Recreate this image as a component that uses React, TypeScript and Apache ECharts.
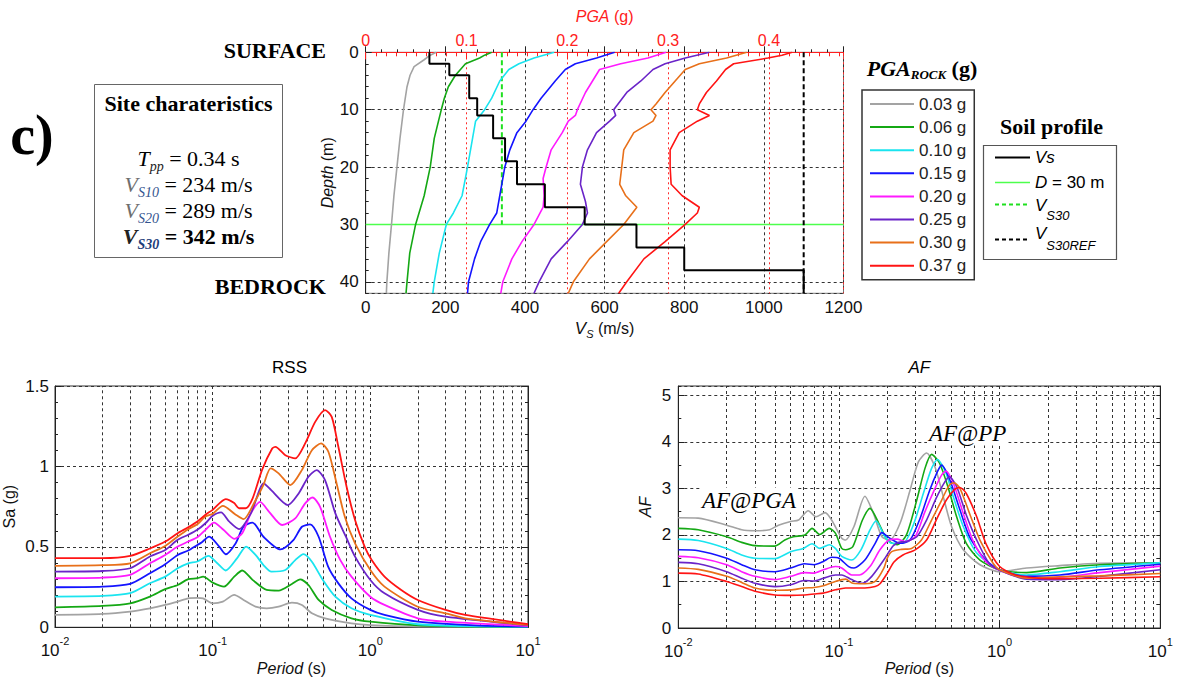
import React, { useEffect, useRef } from "react";
import * as echarts from "echarts";

const SANS = '"Liberation Sans", Arial, sans-serif';
const SERIF = '"Liberation Serif", "Times New Roman", serif';

// ---------- legend / series names and colours ----------
const pgaRockNames = ["0.03 g", "0.06 g", "0.10 g", "0.15 g", "0.20 g", "0.25 g", "0.30 g", "0.37 g"];
const pgaRockColors = ["#a3a3a3", "#14a814", "#1ae4ef", "#1414ff", "#ff1aff", "#6a24c8", "#e8701a", "#ff1414"];

// ---------- top plot: PGA depth profiles [PGA (g), depth (m)] ----------
const pgaProfile003 = [[0.070, 0], [0.064, 0.5], [0.058, 1.3], [0.048, 2.5], [0.044, 4], [0.041, 6], [0.0375, 10], [0.034, 15], [0.031, 20], [0.028, 25], [0.0256, 30], [0.023, 35], [0.021, 40], [0.0205, 42]];
const pgaProfile006 = [[0.125, 0], [0.118, 0.5], [0.113, 1], [0.099, 2], [0.089, 4], [0.082, 6], [0.078, 8], [0.075, 10], [0.068, 15], [0.064, 20], [0.058, 25], [0.0495, 30], [0.0437, 35], [0.041, 40], [0.040, 42]];
const pgaProfile010 = [[0.187, 0], [0.167, 1], [0.152, 2], [0.142, 3], [0.133, 5], [0.125, 8], [0.118, 10], [0.109, 12], [0.106, 15], [0.101, 20], [0.0956, 25], [0.087, 28], [0.080, 30], [0.073, 35], [0.068, 40], [0.0666, 42]];
const pgaProfile015 = [[0.247, 0], [0.229, 1], [0.208, 2], [0.198, 3], [0.188, 5], [0.174, 8], [0.166, 10], [0.159, 12], [0.150, 14], [0.143, 17], [0.138, 20], [0.133, 25], [0.130, 28], [0.123, 30], [0.114, 33], [0.108, 36], [0.102, 40], [0.101, 42]];
const pgaProfile020 = [[0.298, 0], [0.280, 1], [0.253, 2], [0.232, 3], [0.225, 5], [0.218, 7], [0.210, 10], [0.208, 11], [0.201, 12], [0.195, 14], [0.184, 17], [0.179, 20], [0.176, 22], [0.177, 25], [0.176, 27], [0.167, 30], [0.155, 33], [0.145, 36], [0.136, 40], [0.134, 42]];
const pgaProfile025 = [[0.341, 0], [0.317, 1], [0.297, 2], [0.285, 3], [0.273, 5], [0.259, 7], [0.246, 10], [0.248, 11], [0.242, 12], [0.229, 14], [0.220, 17], [0.215, 20], [0.213, 23], [0.218, 26], [0.220, 28], [0.215, 30], [0.200, 33], [0.184, 36], [0.172, 40], [0.167, 42]];
const pgaProfile030 = [[0.378, 0], [0.358, 1], [0.331, 2], [0.317, 3], [0.307, 5], [0.297, 7], [0.288, 9], [0.283, 10], [0.288, 11], [0.285, 12], [0.266, 14], [0.256, 17], [0.254, 20], [0.252, 23], [0.258, 25], [0.269, 27], [0.256, 30], [0.239, 33], [0.222, 36], [0.206, 40], [0.201, 42]];
const pgaProfile037 = [[0.423, 0], [0.413, 0.5], [0.399, 1], [0.365, 2], [0.357, 3], [0.348, 5], [0.338, 7], [0.331, 9], [0.329, 10], [0.341, 11], [0.329, 12], [0.311, 14], [0.302, 17], [0.302, 20], [0.303, 23], [0.314, 25], [0.331, 27], [0.329, 28], [0.317, 30], [0.297, 33], [0.276, 36], [0.259, 40], [0.251, 42]];
const pgaProfiles = [pgaProfile003, pgaProfile006, pgaProfile010, pgaProfile015, pgaProfile020, pgaProfile025, pgaProfile030, pgaProfile037];

// ---------- soil profile ----------
const layerVs = [160, 210, 260, 280, 320, 350, 380, 450, 550, 680, 800, 1100];
const layerTop = [0, 2, 4, 8, 11, 15, 19, 23, 27, 30, 34, 38];
const layerBottom = [2, 4, 8, 11, 15, 19, 23, 27, 30, 34, 38, 42];
const vs30 = 342;
const vs30Ref = 1100;
const refDepth = 30;
const depthMax = 42;
const vsAxisMax = 1200;
const pgaAxisMax = 0.474;

// ---------- RSS: spectral acceleration [period (s), Sa (g)] ----------
const rss003 = [[0.01, 0.077], [0.02, 0.083], [0.03, 0.098], [0.04, 0.118], [0.05, 0.139], [0.06, 0.16], [0.07, 0.18], [0.08, 0.183], [0.087, 0.18], [0.1, 0.149], [0.116, 0.16], [0.137, 0.201], [0.157, 0.17], [0.187, 0.129], [0.22, 0.118], [0.262, 0.128], [0.318, 0.153], [0.368, 0.139], [0.426, 0.087], [0.516, 0.056], [0.759, 0.025], [1.0, 0.014], [2, 0.005], [10, 0.001]];
const rss006 = [[0.01, 0.124], [0.02, 0.133], [0.03, 0.149], [0.04, 0.191], [0.05, 0.237], [0.06, 0.263], [0.07, 0.299], [0.08, 0.305], [0.087, 0.315], [0.1, 0.278], [0.118, 0.253], [0.137, 0.315], [0.154, 0.353], [0.179, 0.295], [0.22, 0.232], [0.262, 0.228], [0.318, 0.269], [0.359, 0.298], [0.405, 0.263], [0.47, 0.17], [0.569, 0.108], [0.759, 0.056], [1.0, 0.035], [2, 0.012], [5, 0.004], [10, 0.002]];
const rss010 = [[0.01, 0.191], [0.02, 0.195], [0.03, 0.212], [0.04, 0.274], [0.05, 0.315], [0.06, 0.367], [0.07, 0.398], [0.08, 0.409], [0.094, 0.444], [0.107, 0.398], [0.121, 0.353], [0.143, 0.43], [0.163, 0.502], [0.187, 0.45], [0.21, 0.387], [0.236, 0.346], [0.289, 0.356], [0.334, 0.418], [0.377, 0.455], [0.426, 0.408], [0.5, 0.294], [0.6, 0.19], [0.759, 0.118], [1.0, 0.077], [2, 0.019], [5, 0.006], [10, 0.003]];
const rss015 = [[0.01, 0.249], [0.02, 0.253], [0.03, 0.27], [0.04, 0.336], [0.05, 0.392], [0.06, 0.45], [0.07, 0.477], [0.08, 0.512], [0.085, 0.527], [0.095, 0.564], [0.11, 0.502], [0.121, 0.454], [0.14, 0.523], [0.157, 0.627], [0.179, 0.651], [0.21, 0.563], [0.269, 0.484], [0.325, 0.542], [0.368, 0.625], [0.415, 0.64], [0.47, 0.563], [0.54, 0.377], [0.627, 0.273], [0.759, 0.18], [1.0, 0.108], [1.23, 0.077], [2, 0.035], [5, 0.01], [10, 0.005]];
const rss020 = [[0.01, 0.305], [0.02, 0.309], [0.03, 0.326], [0.04, 0.398], [0.05, 0.45], [0.06, 0.502], [0.07, 0.533], [0.08, 0.56], [0.09, 0.606], [0.102, 0.651], [0.117, 0.606], [0.137, 0.55], [0.154, 0.585], [0.175, 0.71], [0.2, 0.78], [0.228, 0.718], [0.276, 0.636], [0.334, 0.677], [0.386, 0.77], [0.43, 0.807], [0.48, 0.749], [0.555, 0.563], [0.645, 0.418], [0.759, 0.315], [1.0, 0.19], [1.23, 0.139], [2, 0.056], [3, 0.035], [10, 0.008]];
const rss025 = [[0.01, 0.346], [0.02, 0.35], [0.03, 0.367], [0.04, 0.44], [0.05, 0.481], [0.06, 0.544], [0.07, 0.575], [0.08, 0.606], [0.09, 0.647], [0.1, 0.693], [0.113, 0.714], [0.127, 0.658], [0.147, 0.61], [0.175, 0.71], [0.211, 0.894], [0.235, 0.853], [0.3, 0.76], [0.351, 0.832], [0.405, 0.936], [0.457, 0.977], [0.516, 0.915], [0.6, 0.708], [0.7, 0.563], [0.8, 0.439], [1.0, 0.294], [1.23, 0.211], [2, 0.108], [3, 0.066], [10, 0.012]];
const rss030 = [[0.01, 0.382], [0.02, 0.386], [0.03, 0.398], [0.04, 0.46], [0.05, 0.506], [0.06, 0.564], [0.07, 0.61], [0.08, 0.641], [0.09, 0.689], [0.1, 0.705], [0.116, 0.755], [0.14, 0.70], [0.157, 0.672], [0.187, 0.79], [0.21, 0.886], [0.233, 0.988], [0.262, 0.957], [0.311, 0.884], [0.368, 0.977], [0.426, 1.101], [0.487, 1.143], [0.542, 1.091], [0.611, 0.894], [0.689, 0.687], [0.8, 0.522], [1.0, 0.356], [1.23, 0.253], [2, 0.128], [3, 0.087], [4, 0.056], [10, 0.015]];
const rss037 = [[0.01, 0.43], [0.02, 0.43], [0.03, 0.444], [0.04, 0.49], [0.05, 0.533], [0.06, 0.585], [0.07, 0.622], [0.08, 0.658], [0.09, 0.70], [0.1, 0.73], [0.121, 0.797], [0.137, 0.772], [0.147, 0.74], [0.162, 0.74], [0.179, 0.80], [0.206, 0.98], [0.238, 1.11], [0.25, 1.122], [0.289, 1.07], [0.334, 1.05], [0.386, 1.143], [0.447, 1.277], [0.516, 1.35], [0.569, 1.308], [0.627, 1.122], [0.707, 0.874], [0.8, 0.667], [0.92, 0.501], [1.02, 0.418], [1.23, 0.315], [1.57, 0.232], [2, 0.17], [3, 0.108], [4, 0.077], [10, 0.02]];
const rssCurves = [rss003, rss006, rss010, rss015, rss020, rss025, rss030, rss037];

// ---------- AF: amplification factor [period (s), AF] ----------
const af003 = [[0.01, 2.37], [0.0133, 2.36], [0.02, 2.21], [0.0248, 2.11], [0.03, 2.09], [0.037, 2.11], [0.042, 2.21], [0.05, 2.29], [0.056, 2.32], [0.0644, 2.52], [0.072, 2.39], [0.082, 2.48], [0.09, 2.32], [0.104, 1.93], [0.11, 1.89], [0.124, 2.18], [0.145, 2.83], [0.164, 2.46], [0.185, 1.96], [0.207, 1.89], [0.24, 2.25], [0.277, 2.96], [0.312, 3.57], [0.351, 3.76], [0.396, 3.46], [0.446, 2.82], [0.502, 2.18], [0.594, 1.68], [0.754, 1.36], [1.0, 1.21], [1.47, 1.29], [2.37, 1.34], [4.2, 1.39], [10, 1.40]];
const af006 = [[0.01, 2.14], [0.0133, 2.11], [0.02, 1.96], [0.0248, 1.84], [0.03, 1.77], [0.04, 1.76], [0.046, 1.89], [0.052, 1.96], [0.0614, 2.0], [0.068, 2.14], [0.076, 2.01], [0.087, 2.14], [0.095, 2.04], [0.104, 1.71], [0.11, 1.68], [0.122, 1.75], [0.14, 2.32], [0.156, 2.57], [0.177, 2.25], [0.2, 1.89], [0.23, 1.79], [0.263, 2.0], [0.305, 2.75], [0.343, 3.43], [0.377, 3.73], [0.423, 3.54], [0.48, 3.0], [0.54, 2.39], [0.62, 1.82], [0.754, 1.46], [1.0, 1.25], [1.47, 1.19], [2.37, 1.29], [4.2, 1.36], [10, 1.40]];
const af010 = [[0.01, 1.91], [0.0133, 1.88], [0.02, 1.71], [0.0248, 1.57], [0.03, 1.5], [0.04, 1.49], [0.05, 1.64], [0.06, 1.71], [0.068, 1.81], [0.076, 1.71], [0.087, 1.79], [0.095, 1.71], [0.104, 1.54], [0.12, 1.46], [0.137, 1.68], [0.156, 2.11], [0.17, 2.30], [0.193, 1.96], [0.213, 1.82], [0.25, 1.82], [0.29, 2.21], [0.335, 2.89], [0.377, 3.43], [0.41, 3.62], [0.46, 3.36], [0.515, 2.82], [0.594, 2.18], [0.72, 1.61], [1.0, 1.25], [1.47, 1.14], [2.37, 1.21], [4.2, 1.32], [10, 1.40]];
const af015 = [[0.01, 1.68], [0.0133, 1.66], [0.02, 1.5], [0.0248, 1.36], [0.03, 1.25], [0.04, 1.21], [0.05, 1.29], [0.061, 1.38], [0.07, 1.36], [0.08, 1.43], [0.09, 1.52], [0.1, 1.5], [0.115, 1.32], [0.124, 1.29], [0.145, 1.46], [0.168, 1.82], [0.185, 2.05], [0.207, 1.93], [0.24, 1.82], [0.277, 1.89], [0.32, 2.36], [0.367, 2.96], [0.41, 3.36], [0.436, 3.5], [0.49, 3.18], [0.566, 2.54], [0.65, 1.96], [0.82, 1.46], [1.0, 1.25], [1.47, 1.11], [2.37, 1.14], [4.2, 1.25], [10, 1.37]];
const af020 = [[0.01, 1.54], [0.0133, 1.51], [0.02, 1.36], [0.0248, 1.21], [0.03, 1.11], [0.04, 1.04], [0.05, 1.11], [0.061, 1.19], [0.07, 1.18], [0.08, 1.25], [0.095, 1.32], [0.104, 1.29], [0.12, 1.14], [0.134, 1.14], [0.156, 1.32], [0.18, 1.68], [0.205, 1.89], [0.23, 1.91], [0.257, 1.86], [0.298, 1.96], [0.343, 2.5], [0.396, 3.0], [0.436, 3.29], [0.463, 3.37], [0.515, 3.11], [0.594, 2.46], [0.68, 1.89], [0.82, 1.43], [1.0, 1.24], [1.47, 1.07], [2.37, 1.09], [4.2, 1.19], [10, 1.33]];
const af025 = [[0.01, 1.41], [0.0133, 1.38], [0.02, 1.21], [0.0248, 1.07], [0.03, 0.96], [0.04, 0.89], [0.05, 0.93], [0.061, 1.02], [0.07, 1.01], [0.08, 1.07], [0.095, 1.14], [0.104, 1.14], [0.12, 1.04], [0.14, 0.96], [0.16, 1.11], [0.19, 1.46], [0.217, 1.76], [0.236, 1.84], [0.263, 1.86], [0.305, 1.96], [0.351, 2.32], [0.403, 2.79], [0.456, 3.14], [0.486, 3.25], [0.54, 3.04], [0.62, 2.43], [0.72, 1.89], [0.86, 1.39], [1.0, 1.24], [1.47, 1.05], [2.37, 1.04], [4.2, 1.11], [10, 1.25]];
const af030 = [[0.01, 1.29], [0.0133, 1.26], [0.02, 1.11], [0.0248, 0.98], [0.03, 0.86], [0.04, 0.81], [0.05, 0.82], [0.061, 0.86], [0.07, 0.87], [0.08, 0.91], [0.095, 1.0], [0.11, 1.05], [0.122, 0.96], [0.145, 0.95], [0.168, 1.0], [0.19, 1.28], [0.2, 1.5], [0.213, 1.64], [0.245, 1.69], [0.283, 1.71], [0.326, 1.89], [0.377, 2.32], [0.436, 2.75], [0.486, 3.07], [0.519, 3.12], [0.566, 3.0], [0.65, 2.46], [0.754, 1.89], [0.91, 1.39], [1.0, 1.25], [1.47, 1.07], [2.37, 1.1], [4.2, 1.12], [10, 1.17]];
const af037 = [[0.01, 1.18], [0.0133, 1.16], [0.02, 1.0], [0.0248, 0.89], [0.03, 0.79], [0.04, 0.71], [0.05, 0.70], [0.061, 0.71], [0.07, 0.73], [0.08, 0.75], [0.095, 0.82], [0.11, 0.86], [0.145, 0.86], [0.168, 0.89], [0.18, 0.95], [0.2, 1.18], [0.22, 1.42], [0.25, 1.57], [0.298, 1.68], [0.351, 1.89], [0.403, 2.32], [0.466, 2.75], [0.525, 2.98], [0.566, 3.02], [0.62, 2.89], [0.72, 2.39], [0.82, 1.82], [1.0, 1.32], [1.26, 1.14], [1.75, 1.07], [2.37, 1.06], [4.2, 1.07], [10, 1.1]];
const afCurves = [af003, af006, af010, af015, af020, af025, af030, af037];

// log-axis minor grid positions (periods)
const minorPeriods = [0.02, 0.03, 0.04, 0.05, 0.06, 0.07, 0.08, 0.09, 0.2, 0.3, 0.4, 0.5, 0.6, 0.7, 0.8, 0.9, 2, 3, 4, 5, 6, 7, 8, 9];

const GRID_DASH = [3, 3];

function logLabel(v: number) {
  const e = Math.round(Math.log10(v));
  return `{b|10}{s|${e}}`;
}
const logRich = {
  b: { fontSize: 17, fontFamily: SANS, color: "#111", lineHeight: 24, verticalAlign: "bottom" },
  s: { fontSize: 11, fontFamily: SANS, color: "#111", lineHeight: 12, verticalAlign: "top" },
};

function logXAxis(gridIndex: number) {
  return {
    gridIndex,
    type: "log",
    logBase: 10,
    min: 0.01,
    max: 10,
    position: "bottom",
    axisLine: { show: true, lineStyle: { color: "#222", width: 1 } },
    axisTick: { show: true, inside: true, length: 6, lineStyle: { color: "#222" } },
    axisLabel: { formatter: logLabel, rich: logRich, margin: 8 },
    splitLine: { show: true, lineStyle: { color: "#333", type: GRID_DASH, width: 1 } },
    name: "{i|Period}{n| (s)}",
    nameLocation: "middle",
    nameGap: 30,
    nameTextStyle: {
      rich: {
        i: { fontSize: 16, fontFamily: SANS, fontStyle: "italic", color: "#111" },
        n: { fontSize: 16, fontFamily: SANS, color: "#111" },
      },
    },
  };
}

function minorGridCarrier(xAxisIndex: number, yAxisIndex: number) {
  return {
    type: "line",
    xAxisIndex,
    yAxisIndex,
    data: [],
    silent: true,
    z: 1,
    markLine: {
      silent: true,
      z: 1,
      symbol: ["none", "none"],
      label: { show: false },
      lineStyle: { color: "#333", type: GRID_DASH, width: 1 },
      data: minorPeriods.map((v) => ({ xAxis: v })),
    },
  };
}

function buildOption() {
  const vsStep: number[][] = [];
  layerVs.forEach((vs, i) => {
    vsStep.push([vs, layerTop[i]]);
    vsStep.push([vs, layerBottom[i]]);
  });

  const series: any[] = [];
  // top plot curves
  pgaProfiles.forEach((d, i) => {
    series.push({
      name: pgaRockNames[i],
      type: "line",
      xAxisIndex: 1,
      yAxisIndex: 0,
      data: d,
      showSymbol: false,
      symbol: "none",
      z: 3,
      lineStyle: { color: pgaRockColors[i], width: 1.6 },
      itemStyle: { color: pgaRockColors[i] },
    });
  });
  series.push({
    name: "Vs",
    type: "line",
    xAxisIndex: 0,
    yAxisIndex: 0,
    data: vsStep,
    showSymbol: false,
    symbol: "none",
    z: 4,
    lineStyle: { color: "#000", width: 2 },
  });
  series.push({
    name: "D = 30 m",
    type: "line",
    xAxisIndex: 0,
    yAxisIndex: 0,
    data: [[0, refDepth], [vsAxisMax, refDepth]],
    showSymbol: false,
    symbol: "none",
    z: 2,
    lineStyle: { color: "#4cff4c", width: 1.5 },
  });
  series.push({
    name: "VS30",
    type: "line",
    xAxisIndex: 0,
    yAxisIndex: 0,
    data: [[vs30, 0], [vs30, refDepth]],
    showSymbol: false,
    symbol: "none",
    z: 2,
    lineStyle: { color: "#1fe01f", width: 2, type: [5, 3] },
  });
  series.push({
    name: "VS30REF",
    type: "line",
    xAxisIndex: 0,
    yAxisIndex: 0,
    data: [[vs30Ref, 0], [vs30Ref, depthMax]],
    showSymbol: false,
    symbol: "none",
    z: 2,
    lineStyle: { color: "#000", width: 2, type: [5, 3] },
  });

  // RSS
  series.push(minorGridCarrier(3, 2));
  rssCurves.forEach((d, i) => {
    series.push({
      name: pgaRockNames[i],
      type: "line",
      xAxisIndex: 3,
      yAxisIndex: 2,
      data: d,
      showSymbol: false,
      symbol: "none",
      smooth: 0.25,
      z: 3,
      lineStyle: { color: pgaRockColors[i], width: 1.8 },
      itemStyle: { color: pgaRockColors[i] },
    });
  });
  // AF
  series.push(minorGridCarrier(4, 4));
  afCurves.forEach((d, i) => {
    series.push({
      name: pgaRockNames[i],
      type: "line",
      xAxisIndex: 4,
      yAxisIndex: 4,
      data: d,
      showSymbol: false,
      symbol: "none",
      smooth: 0.25,
      z: 3,
      lineStyle: { color: pgaRockColors[i], width: 1.6 },
      itemStyle: { color: pgaRockColors[i] },
    });
  });

  const axisLabelStyle = { fontSize: 17, fontFamily: SANS, color: "#111" };

  const xAxis: any[] = [
    {
      gridIndex: 0,
      type: "value",
      min: 0,
      max: vsAxisMax,
      interval: 200,
      position: "bottom",
      axisLine: { show: true, lineStyle: { color: "#222" } },
      axisTick: { show: true, inside: true, length: 6, lineStyle: { color: "#222" } },
      minorTick: { show: true, splitNumber: 5, length: 3, lineStyle: { color: "#222" } },
      axisLabel: { ...axisLabelStyle, margin: 6, formatter: (v: number) => String(v) },
      splitLine: { show: true, lineStyle: { color: "#333", type: GRID_DASH, width: 1 } },
      name: "{i|V}{s|S}{n| (m/s)}",
      nameLocation: "middle",
      nameGap: 24,
      nameTextStyle: {
        rich: {
          i: { fontSize: 17, fontFamily: SANS, fontStyle: "italic", color: "#111", lineHeight: 22 },
          s: { fontSize: 11, fontFamily: SANS, fontStyle: "italic", color: "#111", lineHeight: 11, verticalAlign: "bottom" },
          n: { fontSize: 16, fontFamily: SANS, color: "#111", lineHeight: 22 },
        },
      },
    },
    {
      gridIndex: 0,
      type: "value",
      min: 0,
      max: pgaAxisMax,
      interval: 0.1,
      position: "top",
      axisLine: { show: true, lineStyle: { color: "#ff2020" } },
      axisTick: { show: true, inside: true, length: 7, lineStyle: { color: "#ff2020" } },
      axisLabel: { fontSize: 16, fontFamily: SANS, color: "#ff2020", margin: 4, showMaxLabel: false },
      splitLine: { show: true, lineStyle: { color: "#ff2a2a", type: [2, 3], width: 1 } },
      name: "{i|PGA}{n| (g)}",
      nameLocation: "middle",
      nameGap: 28,
      nameTextStyle: {
        rich: {
          i: { fontSize: 16, fontFamily: SANS, fontStyle: "italic", color: "#ff2020" },
          n: { fontSize: 16, fontFamily: SANS, color: "#ff2020" },
        },
      },
    },
    {
      gridIndex: 0,
      type: "value",
      min: 0,
      max: pgaAxisMax,
      interval: 0.01,
      position: "top",
      axisLine: { show: false },
      axisTick: { show: true, inside: true, length: 4, lineStyle: { color: "#ff2020" } },
      axisLabel: { show: false },
      splitLine: { show: false },
    },
    logXAxis(1),
    logXAxis(2),
  ];

  const yAxis: any[] = [
    {
      gridIndex: 0,
      type: "value",
      inverse: true,
      min: 0,
      max: depthMax,
      interval: 10,
      position: "left",
      axisLine: { show: true, lineStyle: { color: "#222" } },
      axisTick: { show: true, inside: true, length: 6, lineStyle: { color: "#222" } },
      axisLabel: { ...axisLabelStyle, margin: 7, showMaxLabel: false },
      splitLine: { show: true, lineStyle: { color: "#333", type: GRID_DASH, width: 1 } },
      name: "{i|Depth}{n| (m)}",
      nameLocation: "middle",
      nameGap: 30,
      nameRotate: 90,
      nameTextStyle: {
        rich: {
          i: { fontSize: 16, fontFamily: SANS, fontStyle: "italic", color: "#111" },
          n: { fontSize: 16, fontFamily: SANS, color: "#111" },
        },
      },
    },
    {
      gridIndex: 0,
      type: "value",
      inverse: true,
      min: 0,
      max: depthMax,
      interval: 2,
      position: "left",
      axisLine: { show: false },
      axisTick: { show: true, inside: true, length: 3, lineStyle: { color: "#222" } },
      axisLabel: { show: false },
      splitLine: { show: false },
    },
    {
      gridIndex: 1,
      type: "value",
      min: 0,
      max: 1.5,
      interval: 0.5,
      position: "left",
      axisLine: { show: true, lineStyle: { color: "#222" } },
      axisTick: { show: true, inside: true, length: 6, lineStyle: { color: "#222" } },
      minorTick: { show: true, splitNumber: 5, length: 3, lineStyle: { color: "#222" } },
      axisLabel: { ...axisLabelStyle, margin: 6 },
      splitLine: { show: true, lineStyle: { color: "#333", type: GRID_DASH, width: 1 } },
      name: "Sa (g)",
      nameLocation: "middle",
      nameGap: 38,
      nameRotate: 90,
      nameTextStyle: { fontSize: 16, fontFamily: SANS, color: "#111" },
    },
    {
      gridIndex: 1,
      type: "value",
      min: 0,
      max: 1.5,
      interval: 0.5,
      position: "right",
      axisLine: { show: true, lineStyle: { color: "#222" } },
      axisTick: { show: true, inside: true, length: 6, lineStyle: { color: "#222" } },
      minorTick: { show: true, splitNumber: 5, length: 3, lineStyle: { color: "#222" } },
      axisLabel: { show: false },
      splitLine: { show: false },
    },
    {
      gridIndex: 2,
      type: "value",
      min: 0,
      max: 5.2,
      interval: 1,
      position: "left",
      axisLine: { show: true, lineStyle: { color: "#222" } },
      axisTick: { show: true, inside: true, length: 6, lineStyle: { color: "#222" } },
      axisLabel: { ...axisLabelStyle, margin: 7, showMaxLabel: false },
      splitLine: { show: true, lineStyle: { color: "#333", type: GRID_DASH, width: 1 } },
      name: "AF",
      nameLocation: "middle",
      nameGap: 25,
      nameRotate: 90,
      nameTextStyle: { fontSize: 16, fontFamily: SANS, fontStyle: "italic", color: "#111" },
    },
    {
      gridIndex: 2,
      type: "value",
      min: 0,
      max: 5.2,
      interval: 0.5,
      position: "right",
      axisLine: { show: true, lineStyle: { color: "#222" } },
      axisTick: { show: true, inside: true, length: 4, lineStyle: { color: "#222" } },
      axisLabel: { show: false },
      splitLine: { show: false },
    },
    {
      gridIndex: 2,
      type: "value",
      min: 0,
      max: 5.2,
      interval: 0.5,
      position: "left",
      axisLine: { show: false },
      axisTick: { show: true, inside: true, length: 3, lineStyle: { color: "#222" } },
      axisLabel: { show: false },
      splitLine: { show: false },
    },
  ];

  const txt = (x: number, y: number, style: any) => ({
    type: "text",
    x,
    y,
    z: 100,
    style: {
      fill: "#000",
      align: style.textAlign || "center",
      verticalAlign: "middle",
      textVerticalAlign: "middle",
      textAlign: "center",
      ...style,
    },
  });

  const siteRich = (bold: boolean, vColor: string, sColor: string) => ({
    v: { fontFamily: SERIF, fontStyle: "italic", fontWeight: bold ? "bold" : "normal", fontSize: 22, lineHeight: 30, fill: vColor },
    s: { fontFamily: SERIF, fontStyle: "italic", fontWeight: bold ? "bold" : "normal", fontSize: 14, lineHeight: 14, verticalAlign: "bottom", fill: sColor },
    n: { fontFamily: SERIF, fontWeight: bold ? "bold" : "normal", fontSize: 22, lineHeight: 30, fill: "#000" },
  });

  const legendLine = (y: number, color: string, width: number, dash?: number[]) => ({
    type: "line",
    z: 100,
    shape: { x1: 995, y1: y, x2: 1030, y2: y },
    style: { stroke: color, lineWidth: width, lineDash: dash || null },
  });

  const graphic: any[] = [
    txt(32, 135, { text: "c)", fontFamily: SERIF, fontWeight: "bold", fontSize: 56 }),
    {
      type: "rect",
      z: 99,
      shape: { x: 94.5, y: 84.5, width: 188, height: 173 },
      style: { fill: "#fff", stroke: "#666", lineWidth: 1 },
    },
    txt(188.5, 103, { text: "Site charateristics", fontFamily: SERIF, fontWeight: "bold", fontSize: 22 }),
    txt(188.5, 158, {
      text: "{v|T}{s|pp}{n| = 0.34 s}",
      rich: siteRich(false, "#000", "#222"),
    }),
    txt(188.5, 184, {
      text: "{v|V}{s|S10}{n| = 234 m/s}",
      rich: siteRich(false, "#6e6e6e", "#34558f"),
    }),
    txt(188.5, 210.5, {
      text: "{v|V}{s|S20}{n| = 289 m/s}",
      rich: siteRich(false, "#6e6e6e", "#34558f"),
    }),
    txt(188.5, 236.5, {
      text: "{v|V}{s|S30}{n| = 342 m/s}",
      rich: siteRich(true, "#222", "#1d3d7a"),
    }),
    txt(326, 50, { text: "SURFACE", fontFamily: SERIF, fontWeight: "bold", fontSize: 22, textAlign: "right", align: "right" }),
    txt(326, 286, { text: "BEDROCK", fontFamily: SERIF, fontWeight: "bold", fontSize: 22, textAlign: "right", align: "right" }),
    // PGA rock legend title
    txt(922, 68, {
      text: "{a|PGA}{b|ROCK}{c| (g)}",
      rich: {
        a: { fontFamily: SERIF, fontStyle: "italic", fontWeight: "bold", fontSize: 22, lineHeight: 26, fill: "#000" },
        b: { fontFamily: SERIF, fontStyle: "italic", fontWeight: "bold", fontSize: 13, lineHeight: 13, verticalAlign: "bottom", fill: "#000" },
        c: { fontFamily: SERIF, fontWeight: "bold", fontSize: 22, lineHeight: 26, fill: "#000" },
      },
    }),
    // soil profile legend
    txt(1051.5, 126.5, { text: "Soil profile", fontFamily: SERIF, fontWeight: "bold", fontSize: 22 }),
    {
      type: "rect",
      z: 99,
      shape: { x: 983.5, y: 145.5, width: 133, height: 114 },
      style: { fill: "#fff", stroke: "#555", lineWidth: 1.2 },
    },
    legendLine(157.5, "#000", 2),
    legendLine(182.5, "#4cff4c", 1.5),
    legendLine(204.5, "#1fe01f", 2, [4, 3]),
    legendLine(239.5, "#000", 2, [4, 3]),
    txt(1035, 157.5, { text: "Vs", fontFamily: SANS, fontStyle: "italic", fontSize: 17, textAlign: "left", align: "left" }),
    txt(1035, 182.5, {
      text: "{i|D}{n| = 30 m}",
      textAlign: "left",
      align: "left",
      rich: {
        i: { fontFamily: SANS, fontStyle: "italic", fontSize: 17, fill: "#000" },
        n: { fontFamily: SANS, fontSize: 17, fill: "#000" },
      },
    }),
    txt(1035, 205, {
      text: "{i|V}{s|S30}",
      textAlign: "left",
      align: "left",
      rich: {
        i: { fontFamily: SANS, fontStyle: "italic", fontSize: 17, lineHeight: 34, fill: "#000" },
        s: { fontFamily: SANS, fontStyle: "italic", fontSize: 13, lineHeight: 14, verticalAlign: "bottom", fill: "#000" },
      },
    }),
    txt(1035, 233, {
      text: "{i|V}{s|S30REF}",
      textAlign: "left",
      align: "left",
      rich: {
        i: { fontFamily: SANS, fontStyle: "italic", fontSize: 17, lineHeight: 38, fill: "#000" },
        s: { fontFamily: SANS, fontStyle: "italic", fontSize: 13, lineHeight: 14, verticalAlign: "bottom", fill: "#000" },
      },
    }),
    // bottom plot titles & annotations
    txt(289.5, 367, { text: "RSS", fontFamily: SANS, fontSize: 17 }),
    txt(919.3, 367, { text: "AF", fontFamily: SANS, fontStyle: "italic", fontSize: 17 }),
    txt(700, 500, {
      text: "AF@PGA",
      fontFamily: SERIF,
      fontStyle: "italic",
      fontSize: 23,
      textAlign: "left",
      align: "left",
      backgroundColor: "#fff",
      padding: [1, 2],
    }),
    txt(927, 433, {
      text: "AF@PP",
      fontFamily: SERIF,
      fontStyle: "italic",
      fontSize: 23,
      textAlign: "left",
      align: "left",
      backgroundColor: "#fff",
      padding: [1, 2],
    }),
  ];

  return {
    animation: false,
    backgroundColor: "#fff",
    textStyle: { fontFamily: SANS },
    grid: [
      { left: 365.7, top: 52.3, width: 477.8, height: 241, show: true, borderColor: "#777", borderWidth: 1 },
      { left: 51, top: 386, width: 477, height: 241.3, show: true, borderColor: "#333", borderWidth: 1 },
      { left: 678.3, top: 386, width: 482, height: 242, show: true, borderColor: "#333", borderWidth: 1 },
    ],
    legend: {
      data: pgaRockNames,
      orient: "vertical",
      left: 862,
      top: 90,
      padding: [4, 8, 4, 8],
      itemWidth: 44,
      itemHeight: 2,
      itemGap: 3.1,
      icon: "rect",
      borderColor: "#333",
      borderWidth: 1.5,
      selectedMode: false,
      textStyle: { fontFamily: SANS, fontSize: 17, color: "#222", lineHeight: 20 },
    },
    xAxis,
    yAxis,
    series,
    graphic,
  };
}

export default function App() {
  const ref = useRef<HTMLDivElement>(null);
  useEffect(() => {
    if (!ref.current) return;
    const chart = echarts.init(ref.current, null, { renderer: "svg" });
    chart.setOption(buildOption() as any);
    return () => chart.dispose();
  }, []);
  return (
    <div
      ref={ref}
      style={{ position: "absolute", left: 0, top: 0, width: 1177, height: 682, background: "#fff" }}
    />
  );
}
